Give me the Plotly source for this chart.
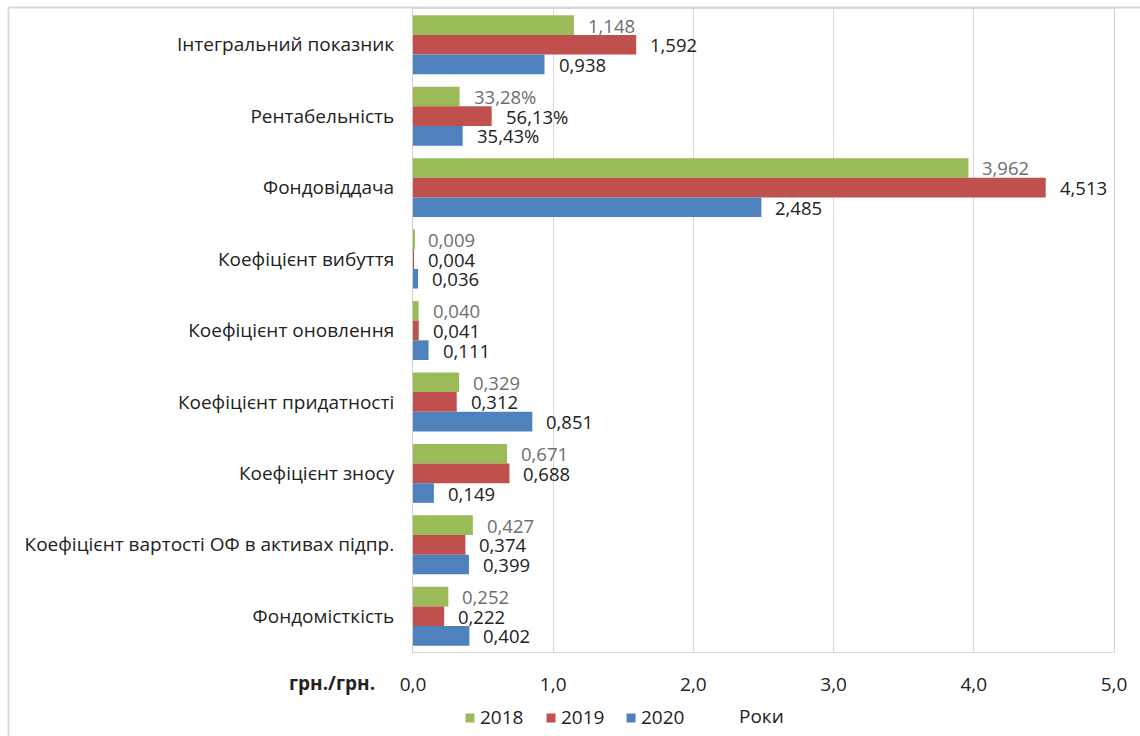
import plotly.graph_objects as go

# Indicators (top to bottom as displayed)
categories = [
    "Інтегральний показник",
    "Рентабельність",
    "Фондовіддача",
    "Коефіцієнт вибуття",
    "Коефіцієнт оновлення",
    "Коефіцієнт придатності",
    "Коефіцієнт зносу",
    "Коефіцієнт вартості ОФ в активах підпр.",
    "Фондомісткість",
]
years = ["2018", "2019", "2020"]
values_2018 = [1.148, 0.3328, 3.962, 0.009, 0.040, 0.329, 0.671, 0.427, 0.252]
values_2019 = [1.592, 0.5613, 4.513, 0.004, 0.041, 0.312, 0.688, 0.374, 0.222]
values_2020 = [0.938, 0.3543, 2.485, 0.036, 0.111, 0.851, 0.149, 0.399, 0.402]
percent_rows = ["Рентабельність"]
x_ticks = [0, 1, 2, 3, 4, 5]

series = [values_2018, values_2019, values_2020]
colors = ["#9BBB59", "#C0504D", "#4F81BD"]
label_colors = ["#6e6e6e", "#222222", "#222222"]

FONT = "'Open Sans', sans-serif"
FS = 19
FS_LABEL = 18.5
W, H = 1140, 736
left, right, top, bottom = 413, 26, 9, 84
plot_w = W - left - right
plot_h = H - top - bottom


def px_x(p):
    return (p - left) / plot_w


def px_y(p):
    return (H - bottom - p) / plot_h


def fmt(v, cat):
    if cat in percent_rows:
        return f"{v * 100:.2f}%".replace(".", ",")
    return f"{v:.3f}".replace(".", ",")


fig = go.Figure()
for yr, vals, col in zip(years, series, colors):
    fig.add_trace(go.Bar(
        name=yr, y=categories, x=vals, orientation="h",
        marker=dict(color=col, line=dict(width=0)),
    ))

# value labels right of each bar
bargap = 0.175
cat_px = plot_h / len(categories)
bar_px = cat_px * (1 - bargap) / len(series)
annotations = []
for i, (vals, lc) in enumerate(zip(series, label_colors)):
    shift = (1 - i) * bar_px  # 2018 on top, 2020 at bottom
    for cat, v in zip(categories, vals):
        annotations.append(dict(
            x=v, y=cat, xref="x", yref="y", text=fmt(v, cat),
            showarrow=False, xanchor="left", yanchor="middle",
            xshift=12, yshift=shift,
            font=dict(family=FONT, size=FS_LABEL, color=lc),
        ))

annotations.append(dict(
    x=px_x(332), y=px_y(683), xref="paper", yref="paper",
    text="<b>грн./грн.</b>", showarrow=False,
    xanchor="center", yanchor="middle",
    font=dict(family=FONT, size=FS, color="#222222"),
))
annotations.append(dict(
    x=px_x(761), y=px_y(716), xref="paper", yref="paper",
    text="Роки", showarrow=False,
    xanchor="center", yanchor="middle",
    font=dict(family=FONT, size=FS, color="#222222"),
))

shapes = [
    # outer chart frame (top and left edges)
    dict(type="line", xref="paper", yref="paper",
         x0=px_x(8.5), x1=px_x(W + 5), y0=px_y(7.5), y1=px_y(7.5),
         line=dict(color="#d9d9d9", width=2)),
    dict(type="line", xref="paper", yref="paper",
         x0=px_x(8.5), x1=px_x(8.5), y0=px_y(7.5), y1=px_y(H + 5),
         line=dict(color="#d9d9d9", width=2)),
]

# legend: colour square followed by the year
legend_square_x = [470, 551, 631]
legend_y = 718
for yr, col, sx in zip(years, colors, legend_square_x):
    shapes.append(dict(
        type="rect", xref="paper", yref="paper",
        x0=px_x(sx - 4.5), x1=px_x(sx + 4.5),
        y0=px_y(legend_y - 4.5), y1=px_y(legend_y + 4.5),
        fillcolor=col, line=dict(width=0),
    ))
    annotations.append(dict(
        x=px_x(sx + 8), y=px_y(legend_y - 1), xref="paper", yref="paper",
        text=yr, showarrow=False, xanchor="left", yanchor="middle",
        font=dict(family=FONT, size=FS, color="#222222"),
    ))

fig.update_layout(
    width=W, height=H,
    margin=dict(l=left, r=right, t=top, b=bottom, autoexpand=False),
    paper_bgcolor="white", plot_bgcolor="white",
    barmode="group", bargap=bargap, bargroupgap=0,
    separators=", ",
    font=dict(family=FONT, size=FS, color="#222222"),
    showlegend=False,
    annotations=annotations,
    shapes=shapes,
)
fig.update_xaxes(
    range=[0, 5], tickvals=x_ticks, tickformat=".1f",
    showgrid=True, gridcolor="#d9d9d9", gridwidth=1,
    showline=True, linecolor="#d9d9d9", linewidth=1, mirror=True,
    zeroline=False, ticks="", ticklabelstandoff=15,
    tickfont=dict(family=FONT, size=FS, color="#222222"),
)
fig.update_yaxes(
    autorange="reversed", showgrid=False,
    showline=True, linecolor="#d0d0d0", linewidth=1, mirror=True,
    ticks="", ticklabelstandoff=14,
    tickfont=dict(family=FONT, size=FS, color="#222222"),
)

fig.write_html("out.html")
